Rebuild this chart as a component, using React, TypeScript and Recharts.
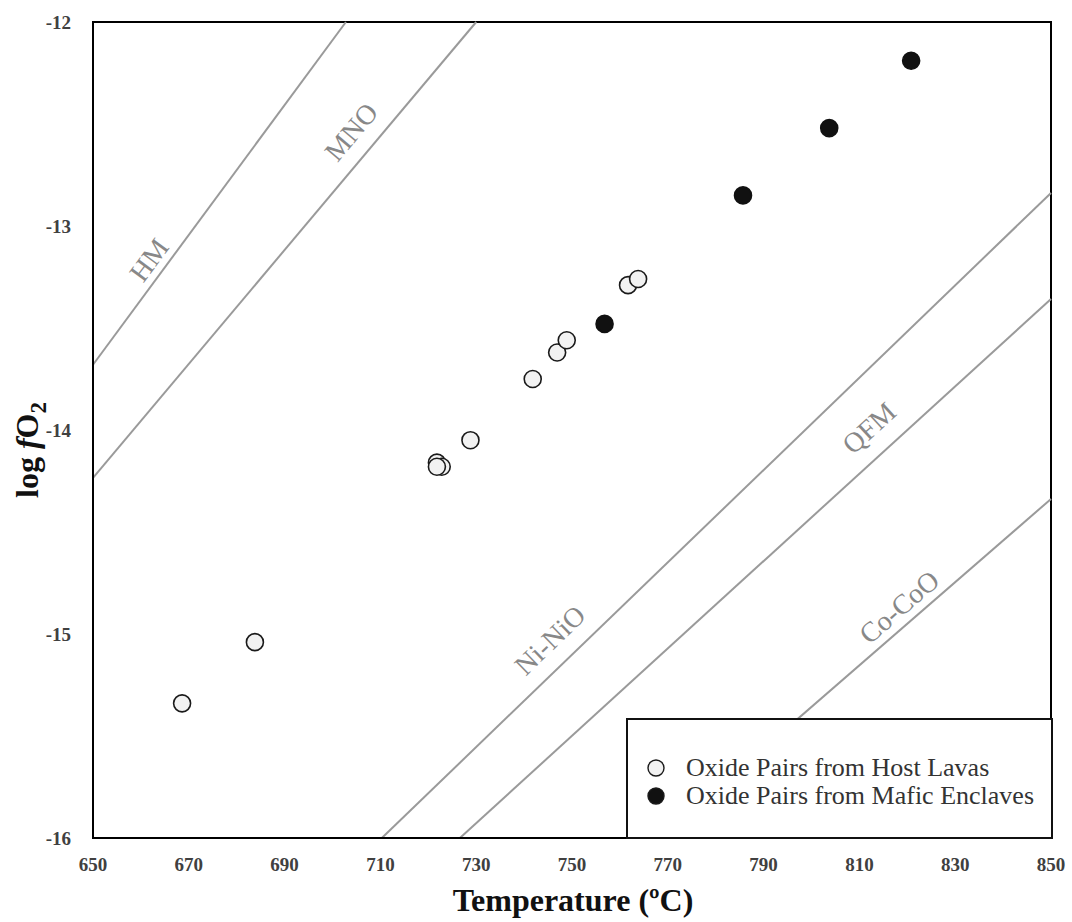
import React from "react";
import {
  ScatterChart,
  Scatter,
  XAxis,
  YAxis,
  ReferenceLine,
  ReferenceDot,
  ReferenceArea,
  Legend,
} from "recharts";

// oxide pair estimates (T in ºC, log fO2)
const hostLavas = [
  { t: 668.6, fo2: -15.34 },
  { t: 683.8, fo2: -15.04 },
  { t: 721.8, fo2: -14.16 },
  { t: 722.8, fo2: -14.18 },
  { t: 721.8, fo2: -14.18 },
  { t: 728.8, fo2: -14.05 },
  { t: 741.8, fo2: -13.75 },
  { t: 746.9, fo2: -13.62 },
  { t: 748.9, fo2: -13.56 },
  { t: 761.7, fo2: -13.29 },
  { t: 763.8, fo2: -13.26 },
];

const maficEnclaves = [
  { t: 756.8, fo2: -13.48 },
  { t: 785.7, fo2: -12.85 },
  { t: 803.7, fo2: -12.52 },
  { t: 820.8, fo2: -12.19 },
];

// oxygen buffer curves, end points clipped to the frame
const buffers = [
  { name: "HM", from: [650, -13.68], to: [702.8, -12] },
  { name: "MNO", from: [650, -14.235], to: [730, -12] },
  { name: "Ni-NiO", from: [710.3, -16], to: [850, -12.838] },
  { name: "QFM", from: [726.6, -16], to: [850, -13.358] },
  { name: "Co-CoO", from: [768.5, -16], to: [850, -14.338] },
];

// where each buffer's name sits, and its tilt
const bufferLabels = [
  { text: "HM", t: 661.7, fo2: -13.167, angle: 53.6 },
  { text: "MNO", t: 703.9, fo2: -12.539, angle: 50 },
  { text: "Ni-NiO", t: 745.4, fo2: -15.03, angle: 44 },
  { text: "QFM", t: 812.0, fo2: -13.99, angle: 42.4 },
  { text: "Co-CoO", t: 818.3, fo2: -14.868, angle: 41 },
];

const xTicks = [650, 670, 690, 710, 730, 750, 770, 790, 810, 830, 850];
const yTicks = [-16, -15, -14, -13, -12];

const legendItems = [
  { label: "Oxide Pairs from Host Lavas", fill: "#f2f2f2" },
  { label: "Oxide Pairs from Mafic Enclaves", fill: "#111111" },
];

const SERIF = '"Liberation Serif", "DejaVu Serif", serif';
const GREY = "#9a9a9a";

function OpenDot(props: any) {
  return <circle cx={props.cx} cy={props.cy} r={8.5} fill="#f2f2f2" stroke="#1a1a1a" strokeWidth={1.6} />;
}

function FilledDot(props: any) {
  return <circle cx={props.cx} cy={props.cy} r={8.5} fill="#111" stroke="#111" strokeWidth={1.6} />;
}

function LegendBox() {
  return (
    <div
      style={{
        width: 427,
        height: 121,
        boxSizing: "border-box",
        border: "2px solid #111",
        background: "#fff",
        paddingTop: 34,
        fontFamily: SERIF,
      }}
    >
      {legendItems.map((it) => (
        <div key={it.label} style={{ display: "flex", alignItems: "center", height: 28 }}>
          <svg width={58} height={28}>
            <circle cx={28} cy={14} r={8} fill={it.fill} stroke="#1a1a1a" strokeWidth={1.4} />
          </svg>
          <span style={{ fontSize: 26, color: "#333", marginLeft: 0 }}>{it.label}</span>
        </div>
      ))}
    </div>
  );
}

export default function App() {
  const tickStyle = { fill: "#404040", fontSize: 19, fontWeight: 700, fontFamily: SERIF };
  return (
    <div style={{ position: "absolute", left: 0, top: 0, width: 1072, height: 922, background: "#fff" }}>
      <ScatterChart width={1072} height={922} margin={{ top: 22, right: 21, left: 0, bottom: 0 }}>
        <XAxis
          type="number"
          dataKey="t"
          domain={[650, 850]}
          ticks={xTicks}
          allowDataOverflow
          height={84}
          tickLine={false}
          tickMargin={14}
          axisLine={{ stroke: "#000", strokeWidth: 2 }}
          tick={tickStyle}
          label={{
            content: () => (
              <text x={573} y={911} textAnchor="middle" fill="#111" fontSize={32} fontWeight={700} fontFamily={SERIF}>
                Temperature (ºC)
              </text>
            ),
          }}
        />
        <YAxis
          type="number"
          dataKey="fo2"
          domain={[-16, -12]}
          ticks={yTicks}
          allowDataOverflow
          width={93}
          tickLine={false}
          tickMargin={16}
          axisLine={{ stroke: "#000", strokeWidth: 2 }}
          tick={tickStyle}
          label={{
            content: () => (
              <text
                transform="translate(38 450) rotate(-90)"
                textAnchor="middle"
                fill="#111"
                fontSize={32}
                fontWeight={700}
                fontFamily={SERIF}
              >
                log <tspan fontStyle="italic">f</tspan>O
                <tspan fontSize={23} dy={8}>2</tspan>
              </text>
            ),
          }}
        />
        <ReferenceArea x1={650} x2={850} y1={-16} y2={-12} fill="none" stroke="#000" strokeWidth={2} />
        {buffers.map((b) => (
          <ReferenceLine
            key={b.name}
            segment={[
              { x: b.from[0], y: b.from[1] },
              { x: b.to[0], y: b.to[1] },
            ]}
            stroke={GREY}
            strokeWidth={2}
          />
        ))}
        {bufferLabels.map((l) => (
          <ReferenceDot
            key={l.text}
            x={l.t}
            y={l.fo2}
            r={0}
            shape={(p: any) => (
              <text
                x={p.cx}
                y={p.cy}
                transform={`rotate(${-l.angle} ${p.cx} ${p.cy})`}
                textAnchor="middle"
                dominantBaseline="central"
                fill="#888"
                fontSize={28}
                fontFamily={SERIF}
              >
                {l.text}
              </text>
            )}
          />
        ))}
        <Scatter name="Oxide Pairs from Host Lavas" data={hostLavas} shape={<OpenDot />} isAnimationActive={false} />
        <Scatter name="Oxide Pairs from Mafic Enclaves" data={maficEnclaves} shape={<FilledDot />} isAnimationActive={false} />
        <Legend
          layout="vertical"
          align="center"
          verticalAlign="middle"
          content={() => <LegendBox />}
          wrapperStyle={{ position: "absolute", left: 626, top: 718, width: 427, height: 121, bottom: "auto", right: "auto" }}
        />
      </ScatterChart>
    </div>
  );
}
